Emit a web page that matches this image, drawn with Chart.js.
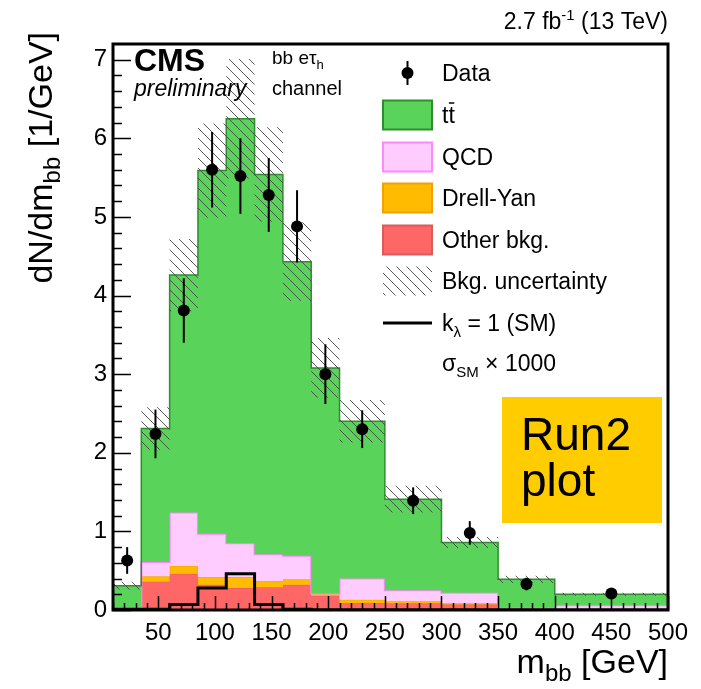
<!DOCTYPE html>
<html>
<head>
<meta charset="utf-8">
<script src="https://cdn.jsdelivr.net/npm/chart.js@4.4.1/dist/chart.umd.min.js"></script>
<style>
html, body { margin: 0; padding: 0; background: #fff; }
canvas { display: block; }
</style>
</head>
<body>
<canvas id="mbbChart" width="701" height="689"></canvas>
<script>
// bins in m_bb [GeV]
const binEdges = [10, 35, 60, 85, 110, 135, 160, 185, 210, 250, 300, 350, 400, 500];
// backgrounds, dN/dm per bin (stack order bottom -> top)
const otherBkg = [0.01, 0.36, 0.46, 0.32, 0.28, 0.29, 0.32, 0.18, 0.09, 0.085, 0.07, 0.02, 0.01];
const drellYan = [0.02, 0.07, 0.10, 0.10, 0.14, 0.08, 0.07, 0.03, 0.04, 0.025, 0.015, 0.005, 0.0];
const qcd      = [0.0, 0.18, 0.68, 0.55, 0.43, 0.34, 0.30, 0.0, 0.27, 0.14, 0.135, 0.005, 0.05];
const ttbar    = [0.28, 1.70, 3.02, 4.62, 5.40, 4.83, 3.74, 2.87, 2.00, 1.16, 0.64, 0.36, 0.14];
const bkgUnc   = [0.05, 0.27, 0.46, 0.60, 0.76, 0.60, 0.50, 0.38, 0.27, 0.17, 0.07, 0.045, 0.02];
// signal k_lambda = 1, x1000
const signalSM = [0.01, 0.01, 0.07, 0.28, 0.46, 0.07, 0.01, 0, 0, 0, 0, 0, 0];
// observed
const dataVals = [0.63, 2.24, 3.81, 5.60, 5.52, 5.28, 4.88, 3.00, 2.30, 1.39, 0.98, 0.33, 0.21];
const dataErr  = [0.17, 0.31, 0.41, 0.48, 0.48, 0.47, 0.46, 0.38, 0.24, 0.17, 0.15, 0.08, 0.045];
const xTicks = [50, 100, 150, 200, 250, 300, 350, 400, 450, 500];
const yTicks = [0, 1, 2, 3, 4, 5, 6, 7];

const FAM = '"Liberation Sans", Arial, Helvetica, sans-serif';
const nBins = binEdges.length - 1;

function stepPoints(vals) {
    let pts = vals.map((v, i) => ({ x: binEdges[i], y: v }));
    pts.push({ x: binEdges[nBins], y: vals[nBins - 1] });
    return pts;
}
function addArr(a, b) { return a.map((v, i) => v + b[i]); }

const cumOther = otherBkg.slice();
const cumDY = addArr(cumOther, drellYan);
const cumQCD = addArr(cumDY, qcd);
const cumTT = addArr(cumQCD, ttbar);
const uncLow = cumTT.map((v, i) => v - bkgUnc[i]);
const uncHigh = cumTT.map((v, i) => v + bkgUnc[i]);
const dataPts = dataVals.map((v, i) => ({ x: (binEdges[i] + binEdges[i + 1]) / 2, y: v }));

// hatch pattern for the uncertainty band
function makeHatch() {
    const s = 10;
    const c = document.createElement('canvas'); c.width = s; c.height = s;
    const g = c.getContext('2d');
    g.strokeStyle = 'rgba(70,70,70,0.9)'; g.lineWidth = 1;
    g.beginPath();
    g.moveTo(0, 0); g.lineTo(s, s);
    g.moveTo(s - 1, -1); g.lineTo(s + 1, 1);
    g.moveTo(-1, s - 1); g.lineTo(1, s + 1);
    g.stroke();
    return document.getElementById('mbbChart').getContext('2d').createPattern(c, 'repeat');
}
const hatch = makeHatch();

function richText(ctx, parts, x, y, align) {
    let w = 0;
    parts.forEach(p => { ctx.font = p.font; p.w = ctx.measureText(p.t).width; w += p.w; });
    let cx = align === 'right' ? x - w : (align === 'center' ? x - w / 2 : x);
    ctx.textAlign = 'left'; ctx.textBaseline = 'alphabetic';
    parts.forEach(p => { ctx.font = p.font; ctx.fillText(p.t, cx, y + (p.dy || 0)); cx += p.w; });
}

const decorPlugin = {
    id: 'decor',
    afterDatasetsDraw(chart) {
        const ctx = chart.ctx, xs = chart.scales.x, ys = chart.scales.y, a = chart.chartArea;
        ctx.save();
        // error bars on data
        ctx.strokeStyle = '#000'; ctx.lineWidth = 2;
        dataPts.forEach((p, i) => {
            const px = xs.getPixelForValue(p.x);
            ctx.beginPath();
            ctx.moveTo(px, ys.getPixelForValue(p.y + dataErr[i]));
            ctx.lineTo(px, ys.getPixelForValue(p.y - dataErr[i]));
            ctx.stroke();
        });
        // ticks
        ctx.lineWidth = 1.5;
        ctx.beginPath();
        for (let v = 0; v < 7.2 - 1e-6; v += 0.2) {
            const major = Math.abs(v - Math.round(v)) < 1e-6;
            const py = Math.round(ys.getPixelForValue(v)) + 0.5;
            ctx.moveTo(a.left, py); ctx.lineTo(a.left + (major ? 18 : 9), py);
        }
        for (let v = 10; v <= 500; v += 10) {
            const major = v % 50 === 0;
            const px = Math.round(xs.getPixelForValue(v)) + 0.5;
            ctx.moveTo(px, a.bottom); ctx.lineTo(px, a.bottom - (major ? 14 : 7));
        }
        ctx.stroke();
        // frame
        ctx.lineWidth = 3;
        ctx.strokeRect(a.left, a.top, a.right - a.left, a.bottom - a.top);
        ctx.restore();
    },
    afterDraw(chart) {
        const ctx = chart.ctx, a = chart.chartArea;
        ctx.save();
        ctx.fillStyle = '#000';
        // header
        richText(ctx, [
            { t: '2.7 fb', font: '23px ' + FAM },
            { t: '-1', font: '15px ' + FAM, dy: -9 },
            { t: ' (13 TeV)', font: '23px ' + FAM }
        ], a.right, 29, 'right');
        richText(ctx, [{ t: 'CMS', font: 'bold 32px ' + FAM }], 134, 71, 'left');
        richText(ctx, [{ t: 'preliminary', font: 'italic 23px ' + FAM }], 134, 96, 'left');
        richText(ctx, [
            { t: 'bb e\u03C4', font: '19px ' + FAM },
            { t: 'h', font: '13px ' + FAM, dy: 5 }
        ], 272, 64, 'left');
        richText(ctx, [{ t: 'channel', font: '20px ' + FAM }], 272, 95, 'left');

        // axis titles
        richText(ctx, [
            { t: 'm', font: '34px ' + FAM },
            { t: 'bb', font: '24px ' + FAM, dy: 8 },
            { t: ' [GeV]', font: '34px ' + FAM }
        ], a.right, 673, 'right');
        ctx.save();
        ctx.translate(52, 32);
        ctx.rotate(-Math.PI / 2);
        richText(ctx, [
            { t: 'dN/dm', font: '34px ' + FAM },
            { t: 'bb', font: '24px ' + FAM, dy: 8 },
            { t: ' [1/GeV]', font: '34px ' + FAM }
        ], 0, 0, 'right');
        ctx.restore();

        // legend
        const bx = 383, bw = 49, bh = 29, tx = 442;
        const rows = [73, 115, 157, 198, 240, 281, 323, 363];
        const lf = '23px ' + FAM;
        // Data
        ctx.strokeStyle = '#000'; ctx.lineWidth = 2;
        ctx.beginPath(); ctx.moveTo(407.5, rows[0] - 12); ctx.lineTo(407.5, rows[0] + 12); ctx.stroke();
        ctx.beginPath(); ctx.arc(407.5, rows[0], 6, 0, Math.PI * 2); ctx.fill();
        richText(ctx, [{ t: 'Data', font: lf }], tx, rows[0] + 8, 'left');
        const boxes = [
            ['#5ad35a', '#2c8f2c'], ['#ffccff', '#ff88ff'], ['#ffbb00', '#f5a000'], ['#ff6666', '#dd5a5a']
        ];
        boxes.forEach((b, k) => {
            const y = rows[k + 1];
            ctx.fillStyle = b[0]; ctx.fillRect(bx, y - bh / 2, bw, bh);
            ctx.strokeStyle = b[1]; ctx.lineWidth = 2; ctx.strokeRect(bx, y - bh / 2, bw, bh);
        });
        ctx.fillStyle = '#000';
        ctx.font = lf;
        const tw = ctx.measureText('t').width;
        richText(ctx, [{ t: 'tt', font: lf }], tx, rows[1] + 8, 'left');
        ctx.lineWidth = 1.5; ctx.strokeStyle = '#000';
        ctx.beginPath(); ctx.moveTo(tx + tw + 0.5, rows[1] - 12); ctx.lineTo(tx + 2 * tw - 0.5, rows[1] - 12); ctx.stroke();
        richText(ctx, [{ t: 'QCD', font: lf }], tx, rows[2] + 8, 'left');
        richText(ctx, [{ t: 'Drell-Yan', font: lf }], tx, rows[3] + 8, 'left');
        richText(ctx, [{ t: 'Other bkg.', font: lf }], tx, rows[4] + 8, 'left');
        ctx.fillStyle = hatch; ctx.fillRect(bx, rows[5] - bh / 2, bw, bh);
        ctx.fillStyle = '#000';
        richText(ctx, [{ t: 'Bkg. uncertainty', font: lf }], tx, rows[5] + 8, 'left');
        ctx.lineWidth = 3;
        ctx.beginPath(); ctx.moveTo(bx, rows[6]); ctx.lineTo(bx + bw, rows[6]); ctx.stroke();
        richText(ctx, [
            { t: 'k', font: lf },
            { t: '\u03BB', font: '15px ' + FAM, dy: 6 },
            { t: ' = 1 (SM)', font: lf }
        ], tx, rows[6] + 8, 'left');
        richText(ctx, [
            { t: '\u03C3', font: lf },
            { t: 'SM', font: '15px ' + FAM, dy: 6 },
            { t: ' \u00D7 1000', font: lf }
        ], tx, rows[7] + 8, 'left');

        // Run2 box
        ctx.fillStyle = '#ffcc00';
        ctx.fillRect(502, 397, 160, 126);
        ctx.fillStyle = '#000';
        richText(ctx, [{ t: 'Run2', font: '46px ' + FAM }], 521, 450, 'left');
        richText(ctx, [{ t: 'plot', font: '46px ' + FAM }], 521, 496, 'left');
        ctx.restore();
    }
};

const histDefaults = { pointRadius: 0, stepped: true, tension: 0 };

new Chart(document.getElementById('mbbChart'), {
    type: 'line',
    data: {
        datasets: [
            Object.assign({ label: 'Other bkg.', data: stepPoints(cumOther), backgroundColor: '#ff6666', borderColor: '#e06060', borderWidth: 1, fill: 'origin', order: 6 }, histDefaults),
            Object.assign({ label: 'Drell-Yan', data: stepPoints(cumDY), backgroundColor: '#ffbb00', borderColor: '#f5a000', borderWidth: 1, fill: '-1', order: 5 }, histDefaults),
            Object.assign({ label: 'QCD', data: stepPoints(cumQCD), backgroundColor: '#ffccff', borderColor: '#ff88ff', borderWidth: 2, fill: '-1', order: 4 }, histDefaults),
            Object.assign({ label: 'tt', data: stepPoints(cumTT), backgroundColor: '#5ad35a', borderColor: '#2c8f2c', borderWidth: 1.5, fill: '-1', order: 3 }, histDefaults),
            Object.assign({ label: 'uncLow', data: stepPoints(uncLow), borderWidth: 0, borderColor: 'rgba(0,0,0,0)', fill: false, order: 2 }, histDefaults),
            Object.assign({ label: 'Bkg. uncertainty', data: stepPoints(uncHigh), borderWidth: 0, borderColor: 'rgba(0,0,0,0)', backgroundColor: hatch, fill: '-1', order: 2 }, histDefaults),
            Object.assign({ label: 'signal', data: stepPoints(signalSM), borderColor: '#000', borderWidth: 3, fill: false, order: 1 }, histDefaults),
            { label: 'Data', data: dataPts, showLine: false, pointRadius: 6, pointBackgroundColor: '#000', pointBorderWidth: 0, order: 0 }
        ]
    },
    options: {
        responsive: false,
        animation: false,
        devicePixelRatio: 1,
        events: [],
        layout: { padding: { left: 0, right: 33, top: 44, bottom: 0 } },
        plugins: { legend: { display: false }, tooltip: { enabled: false } },
        scales: {
            x: {
                type: 'linear', min: 10, max: 500,
                grid: { display: false, drawTicks: false }, border: { display: false },
                afterBuildTicks: s => { s.ticks = xTicks.map(v => ({ value: v })); },
                afterFit: s => { s.height = 79; },
                ticks: { font: { family: FAM, size: 24 }, color: '#000', padding: 9, maxRotation: 0, autoSkip: false }
            },
            y: {
                min: 0, max: 7.2,
                grid: { display: false, drawTicks: false }, border: { display: false },
                afterBuildTicks: s => { s.ticks = yTicks.map(v => ({ value: v })); },
                afterFit: s => { s.width = 113; },
                ticks: { font: { family: FAM, size: 24 }, color: '#000', padding: 6, autoSkip: false }
            }
        }
    },
    plugins: [decorPlugin]
});
</script>
</body>
</html>
